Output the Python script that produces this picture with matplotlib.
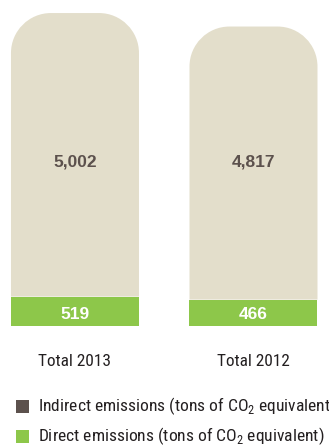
import matplotlib
matplotlib.use("Agg")
import matplotlib.pyplot as plt
from matplotlib.path import Path
from matplotlib.patches import PathPatch, Rectangle

# emissions by year
categories = ["Total 2013", "Total 2012"]
direct = [519, 466]
indirect = [5002, 4817]
legend_labels = ["Indirect emissions (tons of CO$_2$ equivalent)",
                 "Direct emissions (tons of CO$_2$ equivalent)"]

beige = "#E3DECB"
green = "#8DC74A"
brown = "#5C514D"

plt.rcParams["mathtext.fontset"] = "custom"
plt.rcParams["mathtext.rm"] = "Roboto Condensed"
narrow = ["Roboto Condensed", "DejaVu Sans"]

fig = plt.figure(figsize=(3.29, 4.45), dpi=100)
ax = fig.add_axes([0, 0, 1, 1])
ax.set_xlim(-0.42, 1.423)
ax.set_ylim(-2099, 5751)
ax.axis("off")

width = 0.717
x = list(range(len(categories)))

# direct emissions at the bottom
ax.bar(x, direct, width=width, color=green, linewidth=0)


def rounded_top(ax, xc, bottom, top, w, rad_px=40):
    # square bottom, rounded top corners (radius given in pixels)
    p0 = ax.transData.transform((0, 0))
    p1 = ax.transData.transform((1, 1))
    rx = rad_px / (p1[0] - p0[0])
    ry = rad_px / (p1[1] - p0[1])
    k = 0.5523
    x0, x1 = xc - w / 2, xc + w / 2
    verts = [(x0, bottom), (x1, bottom), (x1, top - ry),
             (x1, top - ry + k * ry), (x1 - rx + k * rx, top), (x1 - rx, top),
             (x0 + rx, top),
             (x0 + rx - k * rx, top), (x0, top - ry + k * ry), (x0, top - ry),
             (x0, bottom)]
    codes = [Path.MOVETO, Path.LINETO, Path.LINETO,
             Path.CURVE4, Path.CURVE4, Path.CURVE4,
             Path.LINETO,
             Path.CURVE4, Path.CURVE4, Path.CURVE4,
             Path.CLOSEPOLY]
    ax.add_patch(PathPatch(Path(verts, codes), facecolor=beige, linewidth=0))


for i in x:
    rounded_top(ax, i, direct[i], direct[i] + indirect[i], width)
    ax.text(i, 2890, f"{indirect[i]:,}", ha="center", va="center",
            fontsize=12.5, fontweight="bold", color=brown, family="Liberation Sans")
    ax.text(i, 210, f"{direct[i]:,}", ha="center", va="center",
            fontsize=12.5, fontweight="bold", color="white", family="Liberation Sans")
    ax.text(i, -620, categories[i], ha="center", va="center",
            fontsize=12.4, color="#231F20", family=narrow)

# legend
W, H = 329, 445
for j, (lab, col) in enumerate(zip(legend_labels, [brown, green])):
    yc = [406.5, 436][j]
    fig.patches.append(Rectangle((16 / W, 1 - (yc + 6.5) / H), 13 / W, 13 / H,
                                 transform=fig.transFigure, facecolor=col,
                                 linewidth=0))
    fig.text(38 / W, 1 - yc / H, lab, ha="left", va="center",
             fontsize=12.6, color="#231F20", family=narrow)

fig.savefig("out.png", dpi=100)
